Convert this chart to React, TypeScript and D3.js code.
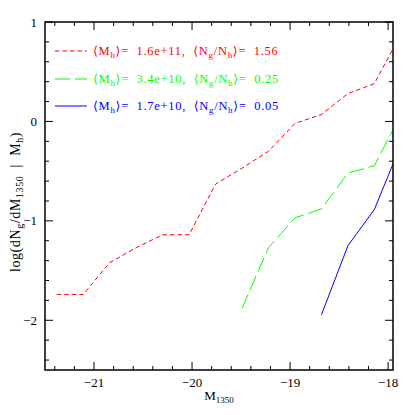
import React from "react";
import * as d3 from "d3";

const magBins = [-21.38, -21.11, -20.84, -20.57, -20.30, -20.03, -19.76, -19.49, -19.22, -18.95, -18.68, -18.41, -18.14, -17.87];
const redVals = [-1.74, -1.74, -1.42, -1.27, -1.14, -1.14, -0.63, -0.47, -0.30, -0.02, 0.07, 0.28, 0.38, 0.88];
const greenMags = [-19.49, -19.22, -18.95, -18.68, -18.41, -18.14, -17.87];
const greenVals = [-1.88, -1.27, -0.97, -0.88, -0.52, -0.445, 0.07];
const blueMags = [-18.68, -18.41, -18.14, -17.87];
const blueVals = [-1.945, -1.25, -0.885, -0.235];

const xMajor = [-21, -20, -19, -18];
const yMajor = [-2, -1, 0, 1];
const legendMh = ["1.6e+11", "3.4e+10", "1.7e+10"];
const legendRatio = ["1.56", "0.25", "0.05"];

const W = 415, H = 415;
const L = 45, R = 393, T = 22, B = 370;

export default function App() {
  const x = d3.scaleLinear().domain([-21.5, -17.95]).range([L, R]);
  const y = d3.scaleLinear().domain([-2.5, 1]).range([B, T]);
  const line = d3.line<[number, number]>().x(d => x(d[0])).y(d => y(d[1]));

  const xMinor = d3.range(-21.4, -17.95, 0.2).map(v => +v.toFixed(2)).filter(v => !xMajor.some(m => Math.abs(m - v) < 1e-6));
  const yMinor = d3.range(-2.4, 1.0001, 0.2).map(v => +v.toFixed(2)).filter(v => !yMajor.some(m => Math.abs(m - v) < 1e-6));

  const series = [
    { mags: magBins, vals: redVals, color: "#ff0000", dash: "4.5,3" },
    { mags: greenMags, vals: greenVals, color: "#00ff00", dash: "15,5" },
    { mags: blueMags, vals: blueVals, color: "#0000ff", dash: "none" },
  ];

  const font = "'Liberation Serif', 'DejaVu Serif', serif";
  const legY = [51, 79, 106];

  return (
    <svg width={W} height={H} style={{ position: "absolute", left: 0, top: 0, background: "#fff" }}>
      <defs>
        <clipPath id="plotclip">
          <rect x={L} y={T} width={R - L} height={B - T} />
        </clipPath>
      </defs>
      <g clipPath="url(#plotclip)">
        {series.map((s, i) => (
          <path key={i} d={line(s.mags.map((m, j) => [m, s.vals[j]] as [number, number])) || ""}
            fill="none" stroke={s.color} strokeWidth={1} strokeDasharray={s.dash} />
        ))}
      </g>
      {/* ticks */}
      <g stroke="#000" strokeWidth={1}>
        {xMajor.map(v => (
          <g key={"xM" + v}>
            <line x1={x(v)} x2={x(v)} y1={B} y2={B - 8} />
            <line x1={x(v)} x2={x(v)} y1={T} y2={T + 8} />
          </g>
        ))}
        {xMinor.map(v => (
          <g key={"xm" + v}>
            <line x1={x(v)} x2={x(v)} y1={B} y2={B - 4} />
            <line x1={x(v)} x2={x(v)} y1={T} y2={T + 4} />
          </g>
        ))}
        {yMajor.map(v => (
          <g key={"yM" + v}>
            <line x1={L} x2={L + 8} y1={y(v)} y2={y(v)} />
            <line x1={R} x2={R - 8} y1={y(v)} y2={y(v)} />
          </g>
        ))}
        {yMinor.map(v => (
          <g key={"ym" + v}>
            <line x1={L} x2={L + 4} y1={y(v)} y2={y(v)} />
            <line x1={R} x2={R - 4} y1={y(v)} y2={y(v)} />
          </g>
        ))}
      </g>
      <rect x={L} y={T} width={R - L} height={B - T} fill="none" stroke="#000" strokeWidth={1.5} />
      {/* tick labels */}
      <g fontFamily={font} fontSize={13} fill="#000">
        {xMajor.map(v => (
          <text key={"xl" + v} x={x(v)} y={387} textAnchor="middle">{"\u2212" + Math.abs(v)}</text>
        ))}
        {yMajor.map(v => (
          <text key={"yl" + v} x={37} y={y(v) + 4.5} textAnchor="end">{v < 0 ? "\u2212" + Math.abs(v) : String(v)}</text>
        ))}
      </g>
      {/* axis labels */}
      <text x={(L + R) / 2} y={400} textAnchor="middle" fontFamily={font} fontSize={13}>
        M<tspan fontSize={9} dy={3}>1350</tspan>
      </text>
      <text transform={`translate(20, ${(T + B) / 2 + 6}) rotate(-90)`} textAnchor="middle" fontFamily={font} fontSize={14}
        letterSpacing={0.6} style={{ whiteSpace: "pre" }}>
        log(dN<tspan fontSize={10} dy={3}>g</tspan><tspan dy={-3}>/dM</tspan><tspan fontSize={10} dy={3}>1350</tspan><tspan dy={-3}>{"  |  M"}</tspan><tspan fontSize={10} dy={3}>h</tspan><tspan dy={-3}>)</tspan>
      </text>
      {/* legend */}
      {series.map((s, i) => (
        <g key={"leg" + i}>
          <line x1={55} x2={87} y1={legY[i]} y2={legY[i]} stroke={s.color} strokeWidth={1} strokeDasharray={s.dash} />
          <text x={93} y={legY[i] + 4} fontFamily={font} fontSize={12.5} letterSpacing={0.7} fill={s.color} style={{ whiteSpace: "pre" }}>
            {"\u27E8M"}<tspan fontSize={9} dy={3}>h</tspan><tspan dy={-3}>{"\u27E9=  " + legendMh[i] + ",  \u27E8N"}</tspan><tspan fontSize={9} dy={3}>g</tspan><tspan dy={-3}>/N</tspan><tspan fontSize={9} dy={3}>h</tspan><tspan dy={-3}>{"\u27E9=  " + legendRatio[i]}</tspan>
          </text>
        </g>
      ))}
    </svg>
  );
}
